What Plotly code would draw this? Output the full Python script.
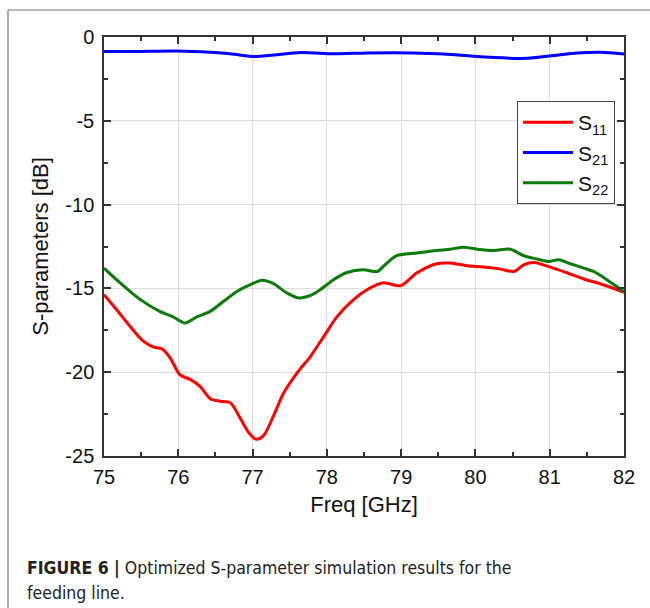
import plotly.graph_objects as go

# ---- data ----
s11_f = [75.0, 75.17, 75.35, 75.53, 75.66, 75.78, 75.89, 76.02, 76.16, 76.29, 76.43, 76.56, 76.70,
         76.83, 76.95, 77.05, 77.15, 77.28, 77.42, 77.60, 77.78, 77.96, 78.14, 78.36, 78.54, 78.76,
         78.99, 79.21, 79.48, 79.66, 79.89, 80.11, 80.34, 80.52, 80.65, 80.79, 81.01, 81.24, 81.46,
         81.68, 81.91, 82.0]
s11_db = [-15.37, -16.27, -17.26, -18.15, -18.49, -18.61, -19.14, -20.14, -20.43, -20.83, -21.58, -21.73,
          -21.82, -22.71, -23.61, -24.0, -23.77, -22.62, -21.23, -20.04, -19.05, -17.86, -16.67, -15.67,
          -15.08, -14.66, -14.84, -14.08, -13.53, -13.49, -13.65, -13.73, -13.85, -13.99, -13.59, -13.45,
          -13.73, -14.08, -14.44, -14.72, -15.08, -15.24]

s21_f = [75.0, 75.4, 75.98, 76.43, 76.75, 77.02, 77.29, 77.65, 78.10, 78.55, 79.17, 79.62, 80.25,
         80.70, 81.06, 81.33, 81.69, 82.0]
s21_db = [-0.87, -0.87, -0.83, -0.91, -1.03, -1.17, -1.07, -0.93, -1.0, -0.95, -0.95, -1.03, -1.23,
          -1.27, -1.1, -0.97, -0.91, -1.01]

s22_f = [75.0, 75.22, 75.49, 75.75, 75.93, 76.09, 76.25, 76.43, 76.61, 76.79, 76.97, 77.13, 77.28,
         77.46, 77.62, 77.78, 77.91, 78.09, 78.27, 78.49, 78.68, 78.76, 78.94, 79.21, 79.48, 79.66,
         79.84, 80.02, 80.25, 80.47, 80.65, 80.83, 80.99, 81.12, 81.28, 81.46, 81.59, 81.77, 81.91, 82.0]
s22_db = [-13.79, -14.68, -15.67, -16.37, -16.70, -17.06, -16.70, -16.37, -15.77, -15.18, -14.78, -14.52,
          -14.72, -15.27, -15.57, -15.42, -15.08, -14.48, -14.05, -13.89, -13.99, -13.69, -13.05, -12.89,
          -12.74, -12.66, -12.54, -12.66, -12.74, -12.66, -13.05, -13.25, -13.39, -13.29, -13.53, -13.79,
          -13.99, -14.48, -14.92, -15.18]

x_ticks = [75, 76, 77, 78, 79, 80, 81, 82]
y_ticks = [0, -5, -10, -15, -20, -25]

FONT = "Liberation Sans, Arial, sans-serif"
CAP_FONT = "Liberation Sans Narrow, DejaVu Sans Condensed, Arial Narrow, sans-serif"

fig = go.Figure()
series = [("S<sub>11</sub>", s11_f, s11_db, "#ff0000"),
          ("S<sub>21</sub>", s21_f, s21_db, "#0000ff"),
          ("S<sub>22</sub>", s22_f, s22_db, "#0c7a0c")]
for i, (name, f, d, c) in enumerate(series):
    fig.add_trace(go.Scatter(x=f, y=d, mode="lines", name=name, legendgroup=str(i),
                             line=dict(color=c, width=3, shape="spline", smoothing=0.8)))

W, H = 650, 608
L, R, T, B = 104, 624, 37, 456          # screen pixels of the plot area
pw, ph = R - L, B - T

def px_x(p):
    return (p - L) / pw

def px_y(p):
    return (B - p) / ph

axis_common = dict(showline=True, linecolor="#333333", linewidth=1.5, mirror="ticks",
                   ticks="inside", ticklen=7, tickcolor="#333333", tickwidth=1.5,
                   showgrid=True, gridcolor="#dddddd", gridwidth=1, zeroline=False,
                   tickfont=dict(family=FONT, size=20, color="#111111"))

fig.update_xaxes(range=[75, 82], tickvals=x_ticks, ticktext=[str(v) for v in x_ticks],
                 minor=dict(ticks="inside", ticklen=4, dtick=0.5, tick0=75, tickcolor="#333333", showgrid=False),
                 title=dict(text="Freq [GHz]", font=dict(family=FONT, size=22, color="#111111"), standoff=10),
                 ticklabelstandoff=2, **axis_common)
fig.update_yaxes(range=[-25, 0], tickvals=y_ticks, ticktext=[str(v) for v in y_ticks],
                 minor=dict(ticks="inside", ticklen=4, dtick=2.5, tick0=0, tickcolor="#333333", showgrid=False),
                 title=dict(text="S-parameters [dB]", font=dict(family=FONT, size=22, color="#111111"), standoff=11),
                 ticklabelstandoff=4, **axis_common)

border = dict(color="#777777", width=1.2)
fig.update_layout(
    width=W, height=H,
    margin=dict(l=L, r=W - R, t=T, b=H - B),
    paper_bgcolor="white", plot_bgcolor="white",
    showlegend=True,
    legend=dict(x=px_x(517), y=px_y(101), xanchor="left", yanchor="top",
                bordercolor="#444444", borderwidth=1, bgcolor="white",
                font=dict(family=FONT, size=21, color="#111111"),
                tracegroupgap=0, itemwidth=50),
    shapes=[
        dict(type="line", xref="paper", yref="paper", x0=px_x(8), x1=px_x(650),
             y0=px_y(10), y1=px_y(10), line=border, layer="below"),
        dict(type="line", xref="paper", yref="paper", x0=px_x(8), x1=px_x(8),
             y0=px_y(10), y1=px_y(608), line=border, layer="below"),
    ],
    annotations=[
        dict(xref="paper", yref="paper", x=px_x(25), y=px_y(568), xanchor="left", yanchor="middle",
             showarrow=False, align="left",
             text="<b>FIGURE 6 |</b> Optimized S-parameter simulation results for the",
             font=dict(family=CAP_FONT, size=17.5, color="#222222")),
        dict(xref="paper", yref="paper", x=px_x(25), y=px_y(593), xanchor="left", yanchor="middle",
             showarrow=False, align="left", text="feeding line.",
             font=dict(family=CAP_FONT, size=17.5, color="#222222")),
    ],
)

# remove the page's default body margin so the 650x608 figure fills the window exactly
fig.write_html("out.html", config={"responsive": False, "displayModeBar": False},
               post_script="document.body.style.margin='0';document.body.style.overflow='hidden';")
